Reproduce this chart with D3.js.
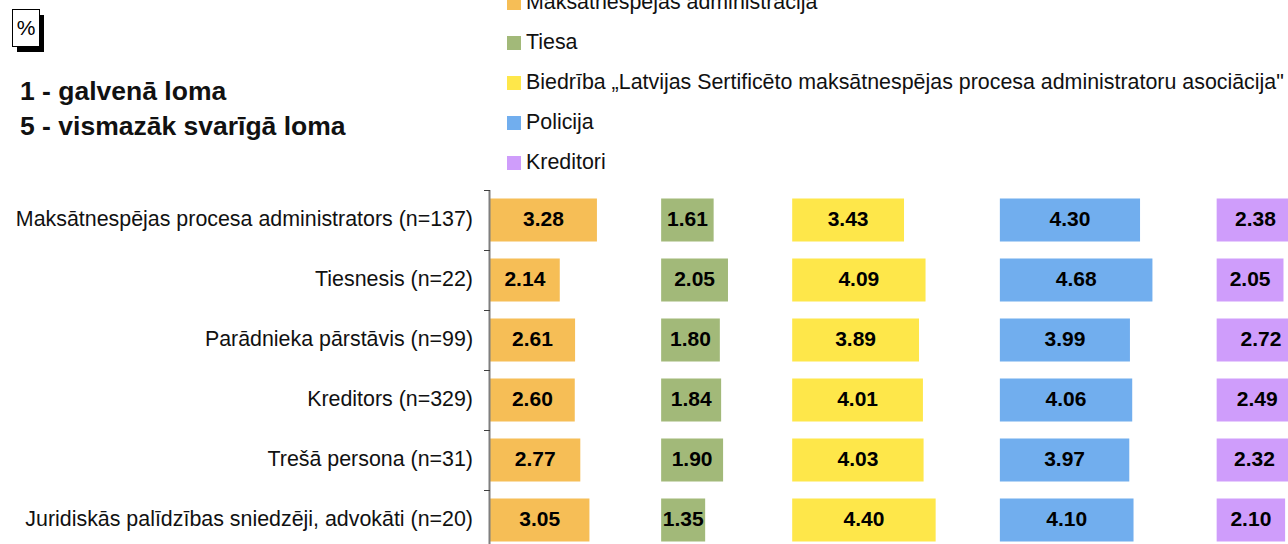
<!DOCTYPE html>
<html>
<head>
<meta charset="utf-8">
<script src="https://cdn.jsdelivr.net/npm/d3@7"></script>
<style>
  html, body { margin: 0; padding: 0; background: #fff; }
  svg { display: block; font-family: "Liberation Sans", Arial, sans-serif; }
</style>
</head>
<body>
<svg id="chart" width="1288" height="544"></svg>
<script>
// Respondent groups (rows, top to bottom)
const categories = [
  "Maksātnespējas procesa administrators (n=137)",
  "Tiesnesis (n=22)",
  "Parādnieka pārstāvis (n=99)",
  "Kreditors (n=329)",
  "Trešā persona (n=31)",
  "Juridiskās palīdzības sniedzēji, advokāti (n=20)"
];

// Series names (legend order)
const seriesNames = [
  "Maksātnespējas administrācija",
  "Tiesa",
  "Biedrība „Latvijas Sertificēto maksātnespējas procesa administratoru asociācija\"",
  "Policija",
  "Kreditori"
];

// Average rank per series, one value per respondent group
const administracija = [3.28, 2.14, 2.61, 2.60, 2.77, 3.05];
const tiesa          = [1.61, 2.05, 1.80, 1.84, 1.90, 1.35];
const biedriba       = [3.43, 4.09, 3.89, 4.01, 4.03, 4.40];
const policija       = [4.30, 4.68, 3.99, 4.06, 3.97, 4.10];
const kreditori      = [2.38, 2.05, 2.72, 2.49, 2.32, 2.10];

const seriesValues = [administracija, tiesa, biedriba, policija, kreditori];
const colors = ["#F6BE56", "#A2B979", "#FEE74A", "#71AEEE", "#CF9DFB"];

const legendNote = ["1 - galvenā loma", "5 - vismazāk svarīgā loma"];

const svg = d3.select("#chart");
const W = 1288, H = 544;
const textSize = 21.4;

// Each series sits in its own column: it starts where the longest bar of the
// previous column ends, plus a fixed gap (in value units).
const gapUnits = 1.97;
const offsets = [];
seriesValues.forEach((vals, i) => {
  offsets.push(i === 0 ? 0 : offsets[i - 1] + d3.max(seriesValues[i - 1]) + gapUnits);
});

const plotLeft = 490;
const unitPx = 32.6;
const x = d3.scaleLinear()
  .domain([0, (W - plotLeft) / unitPx])
  .range([plotLeft, W]);

const rowStep = 60, plotTop = 190;
const y = d3.scaleBand()
  .domain(categories)
  .range([plotTop, plotTop + rowStep * categories.length])
  .paddingInner(0.2833)
  .paddingOuter(0.2833 / 2);

// Bars
seriesValues.forEach((vals, si) => {
  const g = svg.append("g");
  g.selectAll("rect")
    .data(vals)
    .join("rect")
    .attr("x", () => x(offsets[si]))
    .attr("y", (d, i) => y(categories[i]))
    .attr("width", d => x(offsets[si] + d) - x(offsets[si]))
    .attr("height", y.bandwidth())
    .attr("fill", colors[si]);
  g.selectAll("text")
    .data(vals)
    .join("text")
    .attr("x", d => (x(offsets[si]) + x(offsets[si] + d)) / 2)
    .attr("y", (d, i) => y(categories[i]) + y.bandwidth() / 2)
    .attr("dy", "0.27em")
    .attr("text-anchor", "middle")
    .attr("font-size", 21)
    .attr("font-weight", "bold")
    .attr("fill", "#000")
    .text(d => d.toFixed(2));
});

// Category axis
const axisG = svg.append("g");
axisG.append("line")
  .attr("x1", plotLeft - 0.5).attr("x2", plotLeft - 0.5)
  .attr("y1", plotTop).attr("y2", H + 2)
  .attr("stroke", "#7f7f7f").attr("stroke-width", 2);
const tickYs = d3.range(categories.length + 1).map(i => plotTop + i * y.step());
axisG.selectAll("line.tick")
  .data(tickYs)
  .join("line")
  .attr("class", "tick")
  .attr("x1", plotLeft - 6).attr("x2", plotLeft)
  .attr("y1", d => d + 0.5).attr("y2", d => d + 0.5)
  .attr("stroke", "#404040").attr("stroke-width", 1);
axisG.selectAll("text")
  .data(categories)
  .join("text")
  .attr("x", 473)
  .attr("y", d => y(d) + y.bandwidth() / 2)
  .attr("dy", "0.30em")
  .attr("text-anchor", "end")
  .attr("font-size", textSize)
  .attr("fill", "#111")
  .text(d => d);

// Legend
const legend = svg.append("g").attr("transform", "translate(507,-4)");
const items = legend.selectAll("g")
  .data(seriesNames)
  .join("g")
  .attr("transform", (d, i) => `translate(0,${i * 40})`);
items.append("rect")
  .attr("width", 14).attr("height", 14)
  .attr("fill", (d, i) => colors[i]);
items.append("text")
  .attr("x", 19).attr("y", 12.5)
  .attr("font-size", textSize)
  .attr("fill", "#111")
  .text(d => d);

// Unit box with drop shadow
const unitBox = svg.append("g");
unitBox.append("rect")
  .attr("x", 17).attr("y", 15).attr("width", 27).attr("height", 37)
  .attr("fill", "#000");
unitBox.append("rect")
  .attr("x", 12.5).attr("y", 9.5).attr("width", 27).attr("height", 37)
  .attr("fill", "#fff").attr("stroke", "#000").attr("stroke-width", 1);
unitBox.append("text")
  .attr("x", 26).attr("y", 35)
  .attr("text-anchor", "middle")
  .attr("font-size", 21)
  .attr("fill", "#000")
  .text("%");

// Rank scale note
svg.append("g").selectAll("text")
  .data(legendNote)
  .join("text")
  .attr("x", 20)
  .attr("y", (d, i) => 100 + i * 35)
  .attr("font-size", 26.5)
  .attr("font-weight", "bold")
  .attr("fill", "#111")
  .text(d => d);
</script>
</body>
</html>
